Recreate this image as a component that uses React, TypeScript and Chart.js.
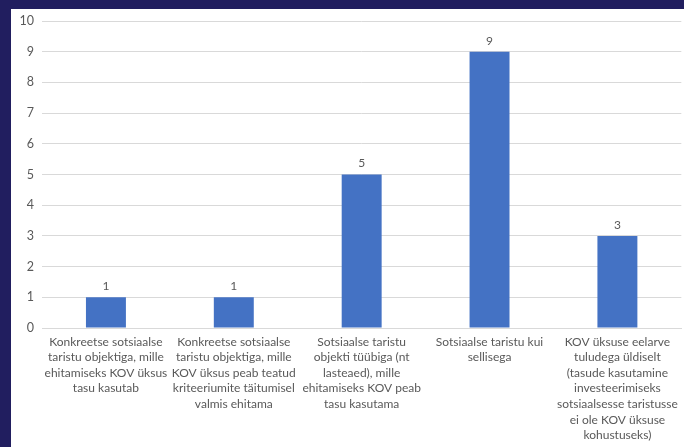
import React, { useEffect, useRef } from "react";
import { Chart, registerables } from "chart.js";

Chart.register(...registerables);

const categories: string[][] = [
  ["Konkreetse sotsiaalse", "taristu objektiga, mille", "ehitamiseks KOV üksus", "tasu kasutab"],
  ["Konkreetse sotsiaalse", "taristu objektiga, mille", "KOV üksus peab teatud", "kriteeriumite täitumisel", "valmis ehitama"],
  ["Sotsiaalse taristu", "objekti tüübiga (nt", "lasteaed), mille", "ehitamiseks KOV peab", "tasu kasutama"],
  ["Sotsiaalse taristu kui", "sellisega"],
  ["KOV üksuse eelarve", "tuludega üldiselt", "(tasude kasutamine", "investeerimiseks", "sotsiaalsesse taristusse", "ei ole KOV üksuse", "kohustuseks)"],
];
const values: number[] = [1, 1, 5, 9, 3];
const yTicks: number[] = [0, 1, 2, 3, 4, 5, 6, 7, 8, 9, 10];

const FONT = "Lato, 'Open Sans', sans-serif";
const TEXT = "#595959";

const labelPlugin = {
  id: "barLabels",
  afterDatasetsDraw(chart: any) {
    const ctx = chart.ctx;
    const meta = chart.getDatasetMeta(0);
    ctx.save();
    ctx.font = `12px ${FONT}`;
    ctx.fillStyle = TEXT;
    ctx.textAlign = "center";
    ctx.textBaseline = "bottom";
    meta.data.forEach((bar: any, i: number) => {
      ctx.fillText(String(values[i]), bar.x, bar.y - 5);
    });
    ctx.restore();
  },
};

export default function App() {
  const ref = useRef<HTMLCanvasElement | null>(null);
  useEffect(() => {
    if (!ref.current) return;
    const chart = new Chart(ref.current, {
      type: "bar",
      data: {
        labels: categories,
        datasets: [
          {
            data: values,
            backgroundColor: "#4472C4",
            categoryPercentage: 0.5,
            barPercentage: 0.625,
          },
        ],
      },
      options: {
        responsive: false,
        animation: false,
        maintainAspectRatio: false,
        layout: { padding: { top: 0, right: 2, left: 0, bottom: 0 } },
        plugins: { legend: { display: false }, tooltip: { enabled: false } },
        scales: {
          x: {
            grid: { display: false, drawTicks: false },
            border: { display: true, color: "#d9d9d9" },
            ticks: {
              color: TEXT,
              font: { family: FONT, size: 12, lineHeight: 1.3 },
              maxRotation: 0,
              minRotation: 0,
              autoSkip: false,
              padding: 6,
            },
            afterFit(scale: any) {
              scale.height = 119;
            },
          },
          y: {
            min: 0,
            max: 10,
            afterBuildTicks(scale: any) {
              scale.ticks = yTicks.map((v) => ({ value: v }));
            },
            grid: { color: "#d9d9d9", drawTicks: false },
            border: { display: false },
            ticks: {
              color: TEXT,
              font: { family: FONT, size: 12.5 },
              padding: 8,
            },
            afterFit(scale: any) {
              scale.width = 31;
              scale.paddingTop = 12;
              scale.paddingBottom = 0;
            },
          },
        },
      },
      plugins: [labelPlugin],
    });
    return () => chart.destroy();
  }, []);
  return (
    <div style={{ position: "fixed", left: 0, top: 0, width: 684, height: 447, background: "#211e5f" }}>
      <div style={{ position: "absolute", left: 11, top: 9, width: 673, height: 438, background: "#ffffff" }}>
        <canvas ref={ref} width={673} height={438} style={{ display: "block" }} />
      </div>
    </div>
  );
}
